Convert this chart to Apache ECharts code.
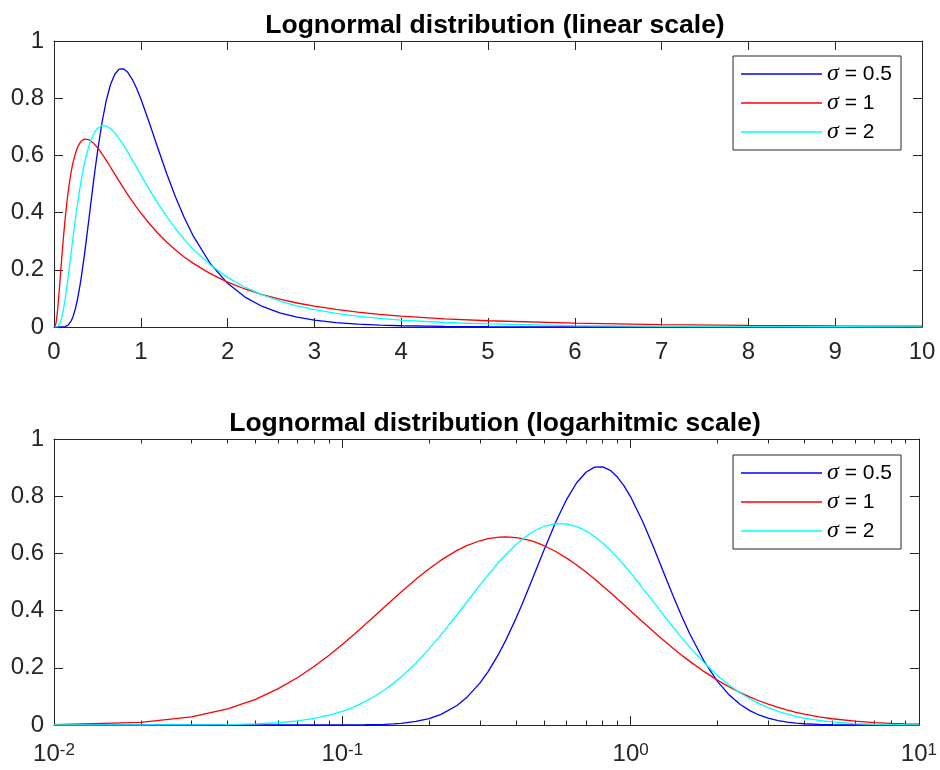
<!DOCTYPE html>
<html>
<head>
<meta charset="utf-8">
<script src="https://cdn.jsdelivr.net/npm/echarts@6/dist/echarts.min.js"></script>
<style>
html, body { margin: 0; background: #fff; }
#chart { width: 940px; height: 770px; }
</style>
</head>
<body>
<div id="chart"></div>
<script>
// sample positions (x) and values
var xs = [0.01, 0.02, 0.03, 0.04, 0.05, 0.06, 0.07, 0.08, 0.09, 0.1,
  0.11, 0.12, 0.13, 0.14, 0.15, 0.16, 0.18, 0.2, 0.22, 0.25,
  0.27, 0.3, 0.32, 0.35, 0.37, 0.4, 0.42, 0.45, 0.47, 0.5,
  0.55, 0.6, 0.65, 0.7, 0.75, 0.8, 0.85, 0.9, 0.95, 1.0,
  1.1, 1.2, 1.3, 1.4, 1.5, 1.6, 1.8, 2.0, 2.2, 2.4,
  2.6, 2.8, 3.0, 3.25, 3.5, 3.75, 4.0, 4.5, 5.0, 6.0,
  7.0, 8.0, 9.0, 10.0]

var pdfHalf = [0, 0, 0, 0, 0, 0, 0, 0, 0.0001, 0.0002,
  0.0004, 0.0008, 0.0015, 0.0025, 0.004, 0.006, 0.0124, 0.0225, 0.037, 0.0683,
  0.0958, 0.1465, 0.1858, 0.2516, 0.2986, 0.372, 0.4217, 0.4954, 0.5429, 0.6104,
  0.7098, 0.7892, 0.8469, 0.8838, 0.9015, 0.9028, 0.8904, 0.867, 0.8355, 0.7979,
  0.7123, 0.6221, 0.5348, 0.4544, 0.3829, 0.3206, 0.2221, 0.1526, 0.1046, 0.0718,
  0.0494, 0.0342, 0.0238, 0.0153, 0.0099, 0.0065, 0.0043, 0.0019, 0.0009, 0.0002,
  0.0001, 0, 0, 0]

var pdfOne = [0.001, 0.0095, 0.0284, 0.0561, 0.0898, 0.1271, 0.166, 0.2054, 0.2441, 0.2815,
  0.3173, 0.3511, 0.3829, 0.4123, 0.4398, 0.4652, 0.5094, 0.5463, 0.5763, 0.6104,
  0.627, 0.6442, 0.6514, 0.657, 0.6577, 0.6555, 0.652, 0.6445, 0.6383, 0.6275,
  0.6067, 0.5836, 0.5594, 0.5348, 0.5103, 0.4864, 0.4632, 0.4408, 0.4194, 0.3989,
  0.361, 0.327, 0.2965, 0.2693, 0.245, 0.2233, 0.1865, 0.1569, 0.1329, 0.1133,
  0.0972, 0.0839, 0.0727, 0.0613, 0.052, 0.0444, 0.0382, 0.0286, 0.0219, 0.0134,
  0.0086, 0.0057, 0.004, 0.0028]

var pdfTwo = [0, 0, 0.0003, 0.0013, 0.0037, 0.0078, 0.0142, 0.0229, 0.0342, 0.0478,
  0.0636, 0.0815, 0.1012, 0.1223, 0.1447, 0.1681, 0.2164, 0.266, 0.3151, 0.3855,
  0.4292, 0.4889, 0.5242, 0.5707, 0.5971, 0.6305, 0.6487, 0.6706, 0.6819, 0.6941,
  0.7039, 0.703, 0.6939, 0.6787, 0.6589, 0.6361, 0.6113, 0.5852, 0.5586, 0.5319,
  0.4797, 0.4304, 0.3849, 0.3436, 0.3064, 0.2732, 0.2174, 0.1735, 0.1391, 0.1121,
  0.0909, 0.074, 0.0606, 0.0476, 0.0377, 0.03, 0.0241, 0.0158, 0.0106, 0.0051,
  0.0026, 0.0014, 0.0008, 0.0005]

var seriesNames = ['σ = 0.5', 'σ = 1', 'σ = 2']
var seriesColors = ['#0000ff', '#ff0000', '#00ffff']
var titles = ['Lognormal distribution (linear scale)', 'Lognormal distribution (logarhitmic scale)']

var font = '"Liberation Sans", Arial, Helvetica, sans-serif'
var ink = '#262626'

function pairs (ys) {
  return xs.map(function (x, i) { return [x, ys[i]] })
}

// one x axis: bottom has labels, top is just the box edge with ticks
function xAxisFor (grid, isLog, isTop) {
  var ax = {
    gridIndex: grid,
    type: isLog ? 'log' : 'value',
    position: isTop ? 'top' : 'bottom',
    min: isLog ? 0.01 : 0,
    max: 10,
    axisLine: { onZero: false, lineStyle: { color: ink, width: 1 } },
    axisTick: { inside: true, length: 9, lineStyle: { color: ink } },
    splitLine: { show: false },
    axisLabel: {
      show: !isTop,
      color: ink,
      fontFamily: font,
      fontSize: 24,
      margin: 13
    }
  }
  if (isLog) {
    ax.logBase = 10
    ax.minorTick = { show: true, splitNumber: 9, length: 4.5, lineStyle: { color: ink } }
    ax.axisLabel.margin = 17
    ax.axisLabel.formatter = function (v) {
      return '{b|10}{s|' + Math.round(Math.log10(v)) + '}'
    }
    ax.axisLabel.rich = {
      b: { fontFamily: font, fontSize: 24, lineHeight: 24, color: ink, verticalAlign: 'bottom', padding: [8, 0, 0, 0] },
      s: { fontFamily: font, fontSize: 17, lineHeight: 17, color: ink, verticalAlign: 'top' }
    }
  } else {
    ax.interval = 1
  }
  return ax
}

function yAxisFor (grid, isRight) {
  return {
    gridIndex: grid,
    type: 'value',
    position: isRight ? 'right' : 'left',
    min: 0,
    max: 1,
    interval: 0.2,
    axisLine: { show: true, onZero: false, lineStyle: { color: ink, width: 1 } },
    axisTick: { show: true, inside: true, length: 9, lineStyle: { color: ink } },
    splitLine: { show: false },
    axisLabel: { show: !isRight, color: ink, fontFamily: font, fontSize: 24, margin: 10 }
  }
}

var curves = [pdfHalf, pdfOne, pdfTwo]
var series = []
;[0, 1].forEach(function (g) {
  curves.forEach(function (ys, k) {
    series.push({
      name: seriesNames[k],
      type: 'line',
      xAxisIndex: g * 2,
      yAxisIndex: g * 2,
      data: pairs(ys),
      symbol: 'none',
      showSymbol: false,
      itemStyle: { color: seriesColors[k] },
      lineStyle: { color: seriesColors[k], width: 1.3 }
    })
  })
})

var chart = echarts.init(document.getElementById('chart'), null, { renderer: 'canvas' })
chart.setOption({
  animation: false,
  backgroundColor: '#fff',
  title: titles.map(function (t, g) {
    return {
      text: t,
      left: 490,
      textAlign: 'center',
      top: 7 + g * 398,
      textStyle: { fontFamily: font, fontSize: 26.5, fontWeight: 'bold', color: '#000' }
    }
  }),
  grid: [
    { left: 54, right: 18, top: 41, height: 286 },
    { left: 54, right: 18, top: 439, height: 286 }
  ],
  xAxis: [xAxisFor(0, false, false), xAxisFor(0, false, true), xAxisFor(1, true, false), xAxisFor(1, true, true)],
  yAxis: [yAxisFor(0, false), yAxisFor(0, true), yAxisFor(1, false), yAxisFor(1, true)],
  legend: [56, 455].map(function (top) {
    return {
      orient: 'vertical',
      right: 39,
      top: top,
      data: seriesNames,
      icon: 'rect',
      itemWidth: 81,
      itemHeight: 1.5,
      itemGap: 5,
      padding: [6, 9, 6, 8],
      borderColor: ink,
      borderWidth: 1,
      backgroundColor: '#fff',
      selectedMode: false,
      formatter: function (name) { return '{g|σ}' + name.slice(1) },
      textStyle: {
        fontFamily: font,
        fontSize: 21,
        color: '#000',
        lineHeight: 22,
        rich: {
          g: { fontFamily: '"Liberation Serif", serif', fontStyle: 'italic', fontSize: 24, lineHeight: 22, color: '#000' }
        }
      }
    }
  }),
  series: series
})
</script>
</body>
</html>
